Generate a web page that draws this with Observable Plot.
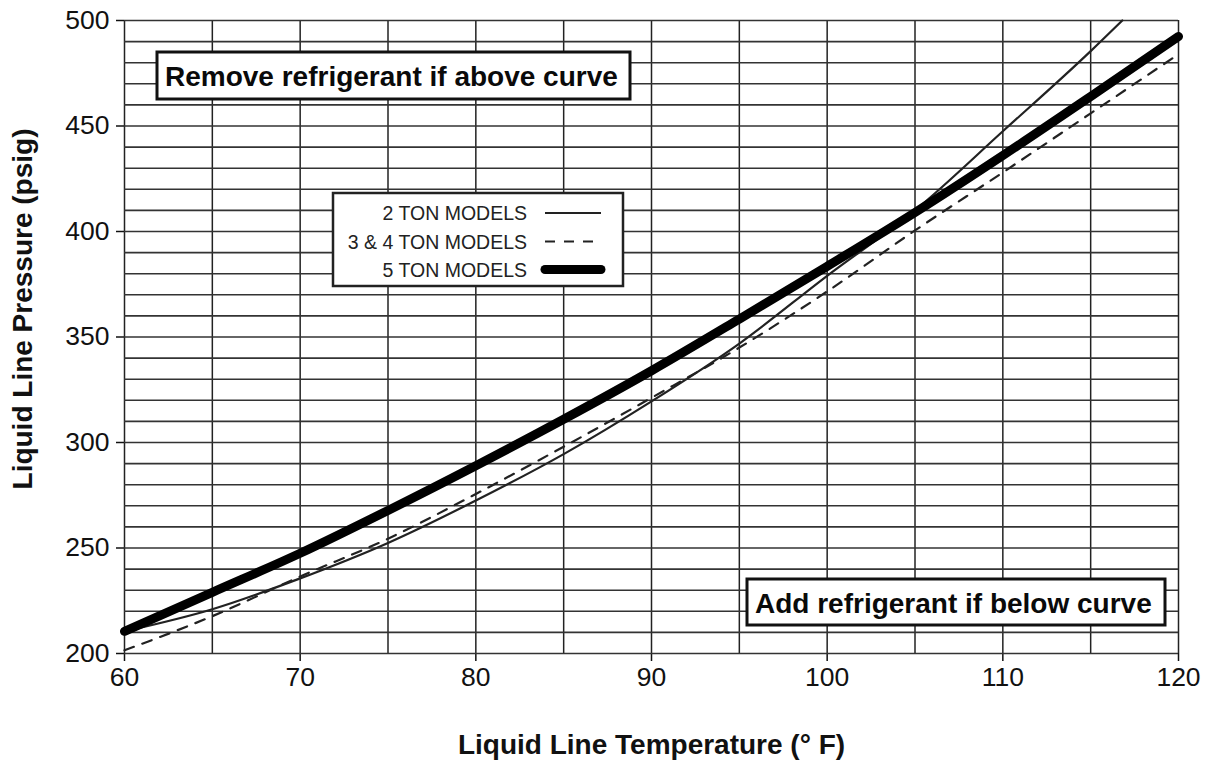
<!DOCTYPE html>
<html><head><meta charset="utf-8">
<script src="https://cdn.jsdelivr.net/npm/d3@7"></script>
<script src="https://cdn.jsdelivr.net/npm/@observablehq/plot@0.6"></script>
<style>
body{margin:0;background:#fff;}
#chart{position:relative;width:1211px;height:763px;}
svg text{font-family:"Liberation Sans", Arial, Helvetica, sans-serif;}
</style>
</head><body><div id="chart"></div>
<script>
// ---- data ----
const twoTonTemps   = [60, 65, 70, 75, 80, 85, 90, 95, 100, 105, 110, 115, 116.8];
const twoTonPsig    = [210.5, 221, 235.6, 252.4, 272.5, 294.5, 319.5, 346.9, 379, 410, 447.5, 485.5, 500];
const threeFourTemps = [60, 65, 70, 75, 80, 85, 90, 95, 100, 105, 110, 115, 120];
const threeFourPsig  = [201.5, 217.7, 236.5, 254.4, 275.6, 298, 321.2, 345, 371.6, 400.5, 428, 456, 484];
const fiveTonTemps  = [60, 65, 70, 75, 80, 85, 90, 95, 100, 105, 110, 115, 120];
const fiveTonPsig   = [210.5, 229, 247.5, 267.8, 289, 311, 334, 358.5, 383.5, 409, 436, 464, 492.4];

const seriesNames = ["2 TON MODELS", "3 & 4 TON MODELS", "5 TON MODELS"];
const xTicks = [60, 70, 80, 90, 100, 110, 120];
const yTicks = [200, 250, 300, 350, 400, 450, 500];
const xGrid = [60, 65, 70, 75, 80, 85, 90, 95, 100, 105, 110, 115, 120];
const yGrid = [200, 210, 220, 230, 240, 250, 260, 270, 280, 290, 300, 310, 320, 330, 340, 350,
               360, 370, 380, 390, 400, 410, 420, 430, 440, 450, 460, 470, 480, 490, 500];
const xLabel = "Liquid Line Temperature (° F)";
const yLabel = "Liquid Line Pressure (psig)";
const noteAbove = "Remove refrigerant if above curve";
const noteBelow = "Add refrigerant if below curve";

const toRows = (ts, ps) => ts.map((t, i) => ({t, p: ps[i]}));
const two = toRows(twoTonTemps, twoTonPsig);
const threeFour = toRows(threeFourTemps, threeFourPsig);
const five = toRows(fiveTonTemps, fiveTonPsig);

const FONT = '"Liberation Sans", Arial, Helvetica, sans-serif';

const chart = Plot.plot({
  width: 1211, height: 763,
  marginLeft: 124, marginRight: 33, marginTop: 20, marginBottom: 110,
  style: {fontFamily: FONT, fontSize: "26.5px", color: "#111", background: "#fff"},
  x: {domain: [60, 120], ticks: xTicks, tickSize: 8, tickPadding: 6, label: null},
  y: {domain: [200, 500], ticks: yTicks, tickSize: 8, tickPadding: 7, label: null},
  marks: [
    Plot.ruleX(xGrid, {stroke: "#222", strokeWidth: 1.5}),
    Plot.ruleY(yGrid, {stroke: "#333", strokeWidth: 1.6}),
    Plot.line(threeFour, {x: "t", y: "p", stroke: "#222", strokeWidth: 2.2, strokeDasharray: "10,9", curve: "monotone-x"}),
    Plot.line(two, {x: "t", y: "p", stroke: "#222", strokeWidth: 2.2, curve: "monotone-x"}),
    Plot.line(five, {x: "t", y: "p", stroke: "#000", strokeWidth: 9, strokeLinecap: "round", strokeLinejoin: "round", curve: "monotone-x"}),
    Plot.text([xLabel], {text: d => d, frameAnchor: "bottom", dy: 92, textAnchor: "middle", lineAnchor: "middle", fontWeight: "bold", fontSize: 28, fill: "#111"}),
    Plot.text([yLabel], {text: d => d, frameAnchor: "left", dx: -101, dy: -28, rotate: -90, textAnchor: "middle", lineAnchor: "middle", fontWeight: "bold", fontSize: 28, fill: "#111"})
  ]
});

const svg = d3.select(chart);
svg.selectAll('g[aria-label="x-axis tick"] path, g[aria-label="y-axis tick"] path').attr("stroke-width", 1.5);

// annotation boxes
function noteBox(x, y, w, h, text, tx, ty) {
  const g = svg.append("g");
  g.append("rect").attr("x", x).attr("y", y).attr("width", w).attr("height", h)
    .attr("fill", "#fff").attr("stroke", "#111").attr("stroke-width", 3);
  g.append("text").attr("x", tx).attr("y", ty).attr("text-anchor", "start").attr("font-family", FONT)
    .attr("font-weight", "bold").attr("font-size", 28).attr("fill", "#0a0a0a").text(text);
}
noteBox(157, 52, 473, 47, noteAbove, 165, 85.5);
noteBox(747, 579, 418, 46, noteBelow, 755, 612.5);

// legend
const lg = svg.append("g");
lg.append("rect").attr("x", 333).attr("y", 193).attr("width", 290).attr("height", 93)
  .attr("fill", "#fff").attr("stroke", "#222").attr("stroke-width", 2.5);
const rowY = [213, 241.5, 269.5];
const styles = [
  {w: 2.2, dash: null, cap: "butt"},
  {w: 2.2, dash: "10,9", cap: "butt"},
  {w: 9, dash: null, cap: "round"}
];
seriesNames.forEach((name, i) => {
  lg.append("text").attr("x", 527).attr("y", rowY[i]).attr("dy", "0.36em")
    .attr("text-anchor", "end").attr("font-family", FONT).attr("font-size", 19.5)
    .attr("fill", "#222").text(name);
  const ln = lg.append("line").attr("x1", 545).attr("x2", 601).attr("y1", rowY[i]).attr("y2", rowY[i])
    .attr("stroke", i === 2 ? "#000" : "#222").attr("stroke-width", styles[i].w)
    .attr("stroke-linecap", styles[i].cap);
  if (styles[i].dash) ln.attr("stroke-dasharray", styles[i].dash);
});

document.getElementById("chart").appendChild(chart);
</script>
</body></html>
